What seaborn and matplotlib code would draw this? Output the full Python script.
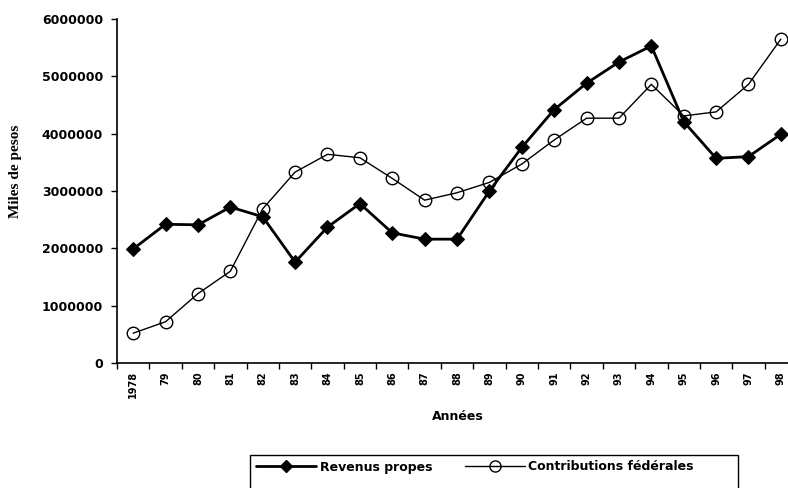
import matplotlib
matplotlib.use("Agg")
import matplotlib.pyplot as plt
import seaborn as sns
import numpy as np
from matplotlib.lines import Line2D
from matplotlib.patches import Rectangle
from matplotlib.ticker import FixedLocator

years = ["1978", "79", "80", "81", "82", "83", "84", "85", "86", "87", "88",
         "89", "90", "91", "92", "93", "94", "95", "96", "97", "98"]
revenus_propes = [1990000, 2420000, 2410000, 2720000, 2550000, 1760000, 2370000,
                  2780000, 2270000, 2160000, 2160000, 3000000, 3760000, 4420000,
                  4880000, 5250000, 5530000, 4210000, 3570000, 3600000, 3990000]
contributions_federales = [520000, 720000, 1210000, 1600000, 2690000, 3330000,
                           3640000, 3580000, 3220000, 2840000, 2970000, 3150000,
                           3470000, 3890000, 4270000, 4270000, 4860000, 4310000,
                           4380000, 4860000, 5650000]
yticks = [0, 1000000, 2000000, 3000000, 4000000, 5000000, 6000000]

sns.set_style("white")
plt.rcParams['font.family'] = ['DejaVu Sans']
plt.rcParams['text.color'] = 'black'
plt.rcParams['xtick.color'] = 'black'
plt.rcParams['ytick.color'] = 'black'
plt.rcParams['axes.labelcolor'] = 'black'

fig = plt.figure(figsize=(7.88, 4.88), dpi=100)
ax = fig.add_axes([117/788, 1-363/488, 1-117/788, (363-19)/488])

pos = np.arange(len(years))
sns.lineplot(x=pos, y=revenus_propes, ax=ax, color="black", linewidth=2.0,
             marker="D", markersize=7.5, markerfacecolor="black",
             markeredgecolor="black")
sns.lineplot(x=pos, y=contributions_federales, ax=ax, color="black", linewidth=1.0,
             marker="o", markersize=9, fillstyle="none", markeredgewidth=1.0,
             markeredgecolor="black")

ax.set_xlim(-0.5, 20.22)
ax.set_ylim(0, 6000000)
ax.set_yticks(yticks)
ax.set_yticklabels([str(v) for v in yticks], fontsize=9, fontweight="bold")
ax.set_xticks(pos)
ax.set_xticklabels(years, rotation=90, fontsize=7, fontweight="bold")
ax.xaxis.set_minor_locator(FixedLocator(np.arange(-0.5, 21, 1.0)))
ax.tick_params(axis="x", which="major", length=0, pad=6)
ax.tick_params(axis="x", which="minor", length=4, width=1, direction="out", color="black", bottom=True)
ax.tick_params(axis="y", which="major", length=4, width=1, direction="out", color="black", left=True, pad=6)

for s in ["top", "right"]:
    ax.spines[s].set_visible(False)
for s in ["left", "bottom"]:
    ax.spines[s].set_color("black")
    ax.spines[s].set_linewidth(1.2)

ax.set_xlabel("Années", fontsize=9, fontweight="bold")
ax.xaxis.set_label_coords((458-117)/(788-117), -(410-363)/344)
ax.set_ylabel("Miles de pesos", fontsize=11, fontweight="bold",
              family=["Liberation Serif", "DejaVu Serif"])
ax.yaxis.set_label_coords(-(117-22)/671, (363-171)/344)

handles = [
    Line2D([], [], color="black", linewidth=2.0, marker="D", markersize=6,
           markerfacecolor="black"),
    Line2D([], [], color="black", linewidth=1.0, marker="o", markersize=8,
           fillstyle="none"),
]
fig.legend(handles, ["Revenus propes", "Contributions fédérales"],
           loc="center left", bbox_to_anchor=(256/788, 1-467/488), ncol=2,
           frameon=False, handlelength=4.8, columnspacing=2.6,
           handletextpad=0.3, borderaxespad=0, borderpad=0,
           prop={"weight": "bold", "size": 9})
fig.add_artist(Rectangle((250/788, -0.05), (738-250)/788, (488-455)/488 + 0.05,
                         transform=fig.transFigure, fill=False,
                         edgecolor="black", linewidth=1.0))

fig.savefig("out.png", dpi=100, facecolor="white")
